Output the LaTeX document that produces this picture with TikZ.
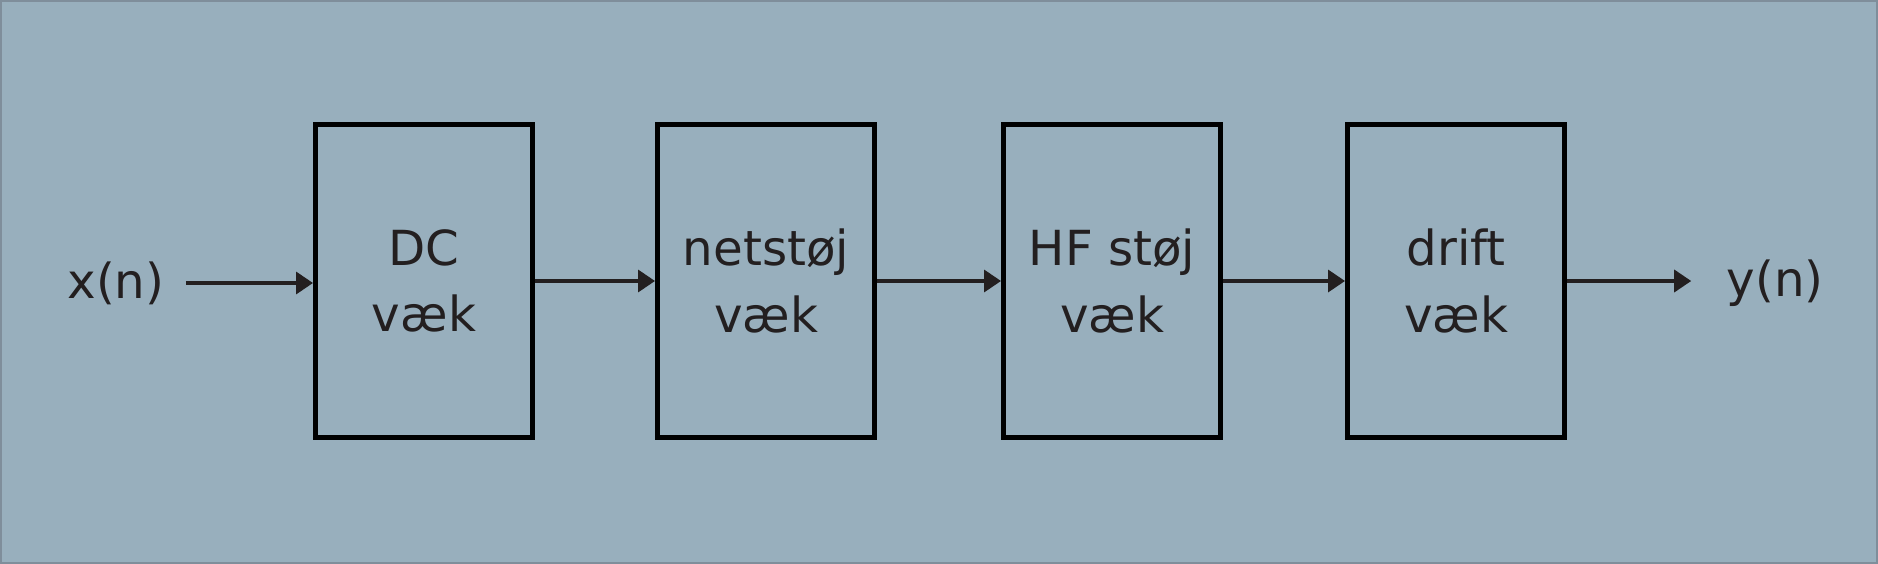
\documentclass[tikz,border=0pt]{standalone}
\usepackage{fontspec}
\setmainfont{DejaVu Sans}
\usetikzlibrary{arrows.meta}
\definecolor{bgblue}{HTML}{98AFBD}
\definecolor{frame}{HTML}{7F8E9B}
\definecolor{ink}{HTML}{231F20}
\tikzset{
  filterbox/.style={draw=black, line width=0.1cm, minimum width=4.34cm,
    minimum height=6.26cm, align=center, text=ink,
    font=\fontsize{27.5}{38}\selectfont},
  signal/.style={text=ink, inner sep=0pt, font=\fontsize{27.5}{33}\selectfont},
  flow/.style={draw=ink, line width=0.07cm,
    -{Triangle[length=0.34cm,width=0.44cm]}}
}
\begin{document}
\begin{tikzpicture}[x=0.02cm,y=-0.02cm]
   \useasboundingbox (0,0) rectangle (1878,564);
   \fill[bgblue] (0,0) rectangle (1878,564);
   \draw[frame, line width=0.04cm] (1,1) rectangle (1877,563);

   \node at (116,283)  (xn) [signal] {x(n)};
   \node at (424,281)  (dc) [filterbox] {DC\\væk};
   \node at (766,281)  (net) [filterbox] {netstøj\\væk};
   \node at (1112,281) (hf) [filterbox] {HF støj\\væk};
   \node at (1456,281) (drift) [filterbox] {drift\\væk};
   \node at (1775,283) (yn) [signal] {y(n)};

    \draw[flow] ([xshift=0.42cm]xn.east) -- (dc.west |- xn.east);
    \draw[flow] (dc) -- (net);
    \draw[flow] (net) -- (hf);
    \draw[flow] (hf) -- (drift);
    \draw[flow] (drift.east) -- ([xshift=-0.7cm]yn.west |- drift.east);

\end{tikzpicture}
\end{document}
